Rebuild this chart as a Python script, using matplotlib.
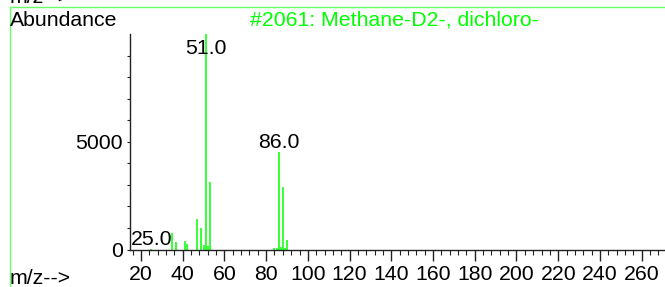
import matplotlib
matplotlib.use("Agg")
import matplotlib.pyplot as plt
from matplotlib.lines import Line2D
from matplotlib.ticker import MultipleLocator

# Mass spectrum peaks (m/z, abundance)
mz = [25, 35, 37, 41, 42, 47, 49, 50, 51, 52, 53, 84, 85, 86, 87, 88, 89, 90]
abundance = [20, 770, 340, 400, 245, 1400, 990, 200, 9999, 150, 3120,
             80, 80, 4520, 110, 2880, 80, 445]
labeled_peaks = [25, 51, 86]
title = "#2061: Methane-D2-, dichloro-"

plt.rcParams["font.family"] = ["Liberation Sans", "DejaVu Sans"]
W, H = 665, 287
fig = plt.figure(figsize=(W / 100, H / 100), dpi=100)
fs = 15.3
green = "#00ff00"

# axes placed in pixel terms: x axis from px 130 to right edge, y from 249.5 to 34
ax = fig.add_axes([130 / W, (H - 249.5) / H, 1 - 130 / W, (249.5 - 34) / H])
ax.vlines(mz, 0, abundance, colors=green, linewidth=1.1)
ax.set_xlim(14.73, 271.2)
ax.set_ylim(0, 9999)

for m, a in zip(mz, abundance):
    if m in labeled_peaks:
        y = min(a, 9999 - 1100)
        ax.text(m, y, f"{m:.1f}", ha="center", va="bottom", fontsize=fs, color="black")

ax.spines["top"].set_visible(False)
ax.spines["right"].set_visible(False)
for s in ("left", "bottom"):
    ax.spines[s].set_color("#222222")
    ax.spines[s].set_linewidth(1.0)

ax.xaxis.set_minor_locator(MultipleLocator(4))
ax.set_xticks(range(20, 261, 20))
ax.yaxis.set_minor_locator(MultipleLocator(1000))
ax.tick_params(axis="x", which="major", direction="out", length=8, width=1.0,
               labelsize=fs, pad=3.5, color="#222222")
ax.tick_params(axis="x", which="minor", direction="out", length=3.6, width=0.8, color="#222222")
ax.tick_params(axis="y", which="major", direction="out", length=2.5, width=0.8,
               labelsize=fs, pad=2.5, color="#222222")
ax.tick_params(axis="y", which="minor", direction="out", length=2.5, width=0.8, color="#222222")
ax.set_yticks([0, 5000])
ax.patch.set_visible(False)

# frame lines and outer labels
fig.add_artist(Line2D([9.5 / W, 9.5 / W], [0, 1 - 6.5 / H], color="#66ff66", linewidth=1.0))
fig.add_artist(Line2D([9.5 / W, 1], [1 - 6.5 / H, 1 - 6.5 / H], color="#66ff66", linewidth=1.0))
fig.text(10 / W, 1 - 3 / H, "m/z-->", fontsize=fs, va="baseline", ha="left")
fig.text(10 / W, 1 - 26 / H, "Abundance", fontsize=fs, va="baseline", ha="left")
fig.text(250 / W, 1 - 26 / H, title, fontsize=fs, va="baseline", ha="left", color=green)
fig.text(10 / W, 3 / H, "m/z-->", fontsize=fs, va="baseline", ha="left")

fig.savefig("out.png", dpi=100)
